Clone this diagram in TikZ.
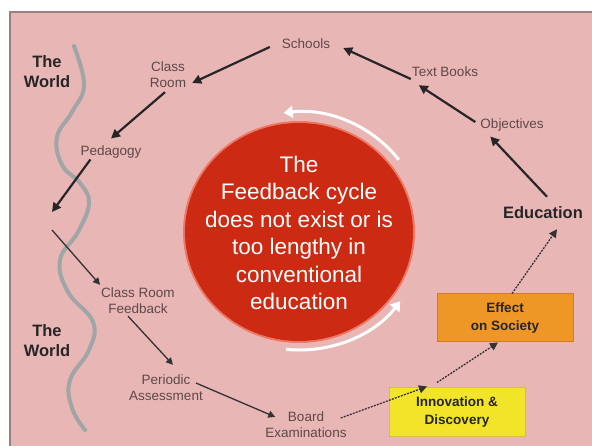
\documentclass[tikz,border=0pt]{standalone}
\usepackage{fontspec}
\setmainfont{Liberation Sans}
\usetikzlibrary{arrows.meta}
\definecolor{bgpink}{RGB}{233,182,182}
\definecolor{frame}{RGB}{150,128,128}
\definecolor{circred}{RGB}{204,42,18}
\definecolor{rimred}{RGB}{236,120,100}
\definecolor{graytxt}{RGB}{95,72,72}
\definecolor{wave}{RGB}{160,165,165}
\definecolor{orangebox}{RGB}{238,150,38}
\definecolor{orangeedge}{RGB}{215,120,40}
\definecolor{yellowbox}{RGB}{242,228,40}
\definecolor{yellowedge}{RGB}{215,190,60}
\tikzset{
  lbl/.style={text=graytxt, font=\fontsize{13.5}{16}\selectfont, align=center, inner sep=1pt},
  boldlbl/.style={text=black!85, font=\fontsize{16.5}{20}\selectfont\bfseries, align=center, inner sep=1pt},
  arr/.style={-{Triangle[length=9pt,width=9pt]}, line width=2.2pt, draw=black!85},
  thinarr/.style={-{Triangle[length=7pt,width=7pt]}, line width=1.3pt, draw=black!80},
  dotarr/.style={-{Triangle[length=8pt,width=8pt]}, line width=1.3pt, draw=black!80, dash pattern=on 2pt off 1.2pt},
  boxnode/.style={minimum width=136pt, minimum height=48pt, align=center, font=\fontsize{13.5}{18}\selectfont\bfseries, text=black!85, line width=1pt}
}
\begin{document}
\begin{tikzpicture}[x=1pt,y=-1pt]
\useasboundingbox (0,0) rectangle (592,446);
\fill[white] (0,0) rectangle (592,446);
\fill[bgpink] (10,12) rectangle (592,446);
\draw[frame, line width=2pt] (10,446) -- (10,12) -- (592,12);
% wave
\draw[wave, line width=4pt, line cap=round] plot[smooth, tension=0.7] coordinates {(74,46) (84,85) (72,112) (57,137) (62,165) (80,183) (89,203) (78,232) (60,260) (68,292) (93,322) (89,350) (70,380) (72,408) (85,430)};
% circle
\fill[rimred] (299,232) ellipse [x radius=116, y radius=111];
\fill[circred] (299,232) ellipse [x radius=114, y radius=109];
\node[text=white, align=center, font=\fontsize{22.5}{27.5}\selectfont] (c) at (299,233) {The\\Feedback cycle\\does not exist or is\\too lengthy in\\conventional\\education};
% white arcs
\draw[white, line width=3pt, -{Triangle[length=9pt,width=12pt]}] (299,232) ++(-37:125 and 120) arc[start angle=-37, end angle=-97, x radius=125, y radius=120];
\draw[white, line width=3pt, -{Triangle[length=9pt,width=12pt]}] (299,232) ++(96:125 and 118) arc[start angle=96, end angle=36, x radius=125, y radius=118];
% nodes
\node[lbl] (schools) at (306,44) {Schools};
\node[lbl] (classroom) at (168,75) {Class\\Room};
\node[lbl] (pedagogy) at (111,152) {Pedagogy};
\node[lbl] (textbooks) at (445,72) {Text Books};
\node[lbl] (objectives) at (512,125) {Objectives};
\node[boldlbl] (education) at (543,213) {Education};
\node[boldlbl] (world1) at (47,72) {The\\World};
\node[boldlbl] (world2) at (47,341) {The\\World};
\node[lbl] (crf) at (138,301) {Class Room\\Feedback};
\node[lbl] (periodic) at (166,388) {Periodic\\Assessment};
\node[lbl] (board) at (306,425) {Board\\Examinations};
\node[boxnode, fill=orangebox, draw=orangeedge] (effect) at (505,318) {Effect\\on Society};
\node[boxnode, fill=yellowbox, draw=yellowedge] (innov) at (457,412) {Innovation \&\\Discovery};
\coordinate (free1) at (52,212);
\coordinate (free2) at (52,230);
% arrows
\draw[arr] ([xshift=-11pt,yshift=-3pt]schools.west) -- ([xshift=5pt,yshift=-8pt]classroom.east);
\draw[arr] ([xshift=-3pt,yshift=-3pt]classroom.south) -- ([yshift=6pt]pedagogy.north);
\draw[arr] (pedagogy.-160) -- (free1);
\draw[thinarr] (free2) -- ([yshift=2pt]crf.north west);
\draw[thinarr] ([xshift=-10pt,yshift=-1pt]crf.south) -- ([xshift=7pt,yshift=9pt]periodic.north);
\draw[thinarr] ([xshift=-8pt,yshift=5pt]periodic.east) -- ([xshift=11pt,yshift=8pt]board.west);
\draw[arr] ([yshift=-7pt]textbooks.west) -- ([xshift=12pt,yshift=-4pt]schools.east);
\draw[arr] ([xshift=-4pt,yshift=3pt]objectives.west) -- ([xshift=8pt,yshift=-7pt]textbooks.south west);
\draw[arr] ([xshift=4pt,yshift=9pt]education.north) -- ([xshift=11pt,yshift=-4pt]objectives.south west);
\draw[dotarr] ([xshift=-7pt,yshift=7pt]board.east) -- ([xshift=-30pt,yshift=1pt]innov.north);
\draw[dotarr] ([xshift=-20pt,yshift=5pt]innov.north) -- ([xshift=-7pt]effect.south);
\draw[dotarr] ([xshift=7pt]effect.north) -- ([xshift=14pt,yshift=-9pt]education.south);
\end{tikzpicture}
\end{document}
